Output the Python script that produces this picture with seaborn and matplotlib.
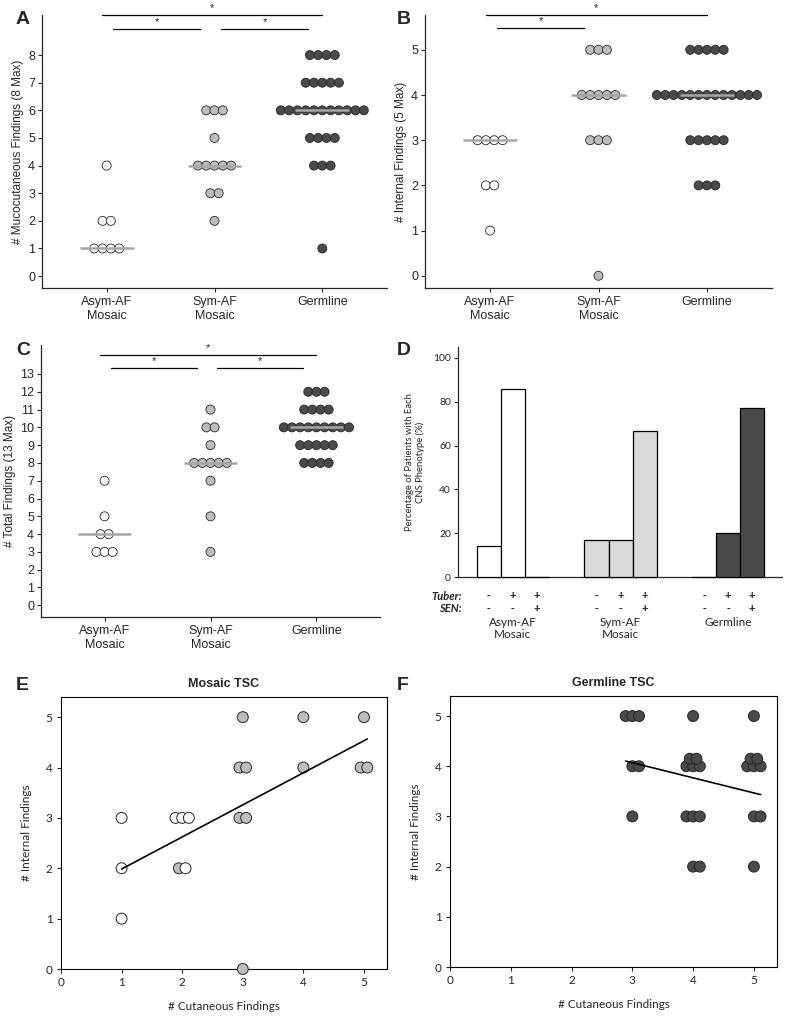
import matplotlib
matplotlib.use("Agg")
import matplotlib.pyplot as plt
import matplotlib.transforms as mtransforms
import numpy as np
import pandas as pd
import seaborn as sns

# ---- data ----
GROUPS = ["Asym-AF\nMosaic", "Sym-AF\nMosaic", "Germline"]

MUCO_ASYM = [4, 2, 2, 1, 1, 1, 1]
MUCO_SYM = [6, 6, 6, 5, 4, 4, 4, 4, 4, 3, 3, 2]
MUCO_GERM = [8] * 4 + [7] * 5 + [6] * 11 + [5] * 4 + [4] * 3 + [1]

INT_ASYM = [3, 3, 3, 3, 2, 2, 1]
INT_SYM = [5, 5, 5, 4, 4, 4, 4, 4, 3, 3, 3, 0]
INT_GERM = [5] * 5 + [4] * 13 + [3] * 5 + [2] * 3

TOT_ASYM = [7, 5, 4, 4, 3, 3, 3]
TOT_SYM = [11, 10, 10, 9, 8, 8, 8, 8, 8, 7, 5, 3]
TOT_GERM = [12] * 3 + [11] * 4 + [10] * 9 + [9] * 5 + [8] * 4

CNS_PHENO = ["T-S-", "T+S-", "T+S+"]
TUBER_SIGN = ["-", "+", "+"]
SEN_SIGN = ["-", "-", "+"]
CNS_ASYM = [14.3, 85.7, 0.0]
CNS_SYM = [16.7, 16.7, 66.7]
CNS_GERM = [0.0, 20.0, 77.0]

# mosaic scatter (E): sym-AF first, then asym-AF
E_CUT = [2, 3, 4, 5, 3, 3, 4, 5, 5, 3, 3, 3, 1, 1, 1, 2, 2, 2, 2]
E_INT = [2, 5, 5, 5, 4, 4, 4, 4, 4, 3, 3, 0, 3, 2, 1, 3, 3, 3, 2]
E_GRP = ["Sym"] * 12 + ["Asym"] * 7

# germline scatter (F)
F_CUT = [3] * 6 + [4] * 11 + [5] * 9
F_INT = [5, 5, 5, 4, 4, 3,
         5, 4, 4, 4, 4, 4, 3, 3, 3, 2, 2,
         5, 4, 4, 4, 4, 4, 3, 3, 2]

# ---- styling ----
W, H = 789, 1022
C_WHITE, C_LIGHT, C_DARK = "#ffffff", "#bdbdbd", "#4a4a4a"
GROUP_COLORS = [C_WHITE, C_LIGHT, C_DARK]
EDGE = "#262626"
ARIAL = "Liberation Sans"
CALIBRI = "Lato"

sns.set_theme(style="ticks")
plt.rcParams["font.family"] = [ARIAL, "DejaVu Sans"]
plt.rcParams["axes.linewidth"] = 0.9

fig = plt.figure(figsize=(W / 100, H / 100), dpi=100)


def px_axes(left, top, right, bottom):
    return fig.add_axes([left / W, 1 - bottom / H, (right - left) / W, (bottom - top) / H])


def row_offsets(n, step):
    return (np.arange(n) - (n - 1) / 2) * step


def dot_frame(groups_values, step=0.077):
    rows = []
    for gi, vals in enumerate(groups_values):
        vals = np.asarray(vals)
        xs = np.empty(len(vals))
        for v in np.unique(vals):
            idx = np.where(vals == v)[0]
            xs[idx] = gi + row_offsets(len(idx), step)
        for x, v in zip(xs, vals):
            rows.append({"group": GROUPS[gi], "xpos": x, "value": v})
    return pd.DataFrame(rows)


def dot_panel(ax, groups_values, ylabel, yticks, ylim, sig, sig_levels):
    df = dot_frame(groups_values)
    sns.scatterplot(data=df, x="xpos", y="value", hue="group", palette=dict(zip(GROUPS, GROUP_COLORS)),
                    s=42, edgecolor=EDGE, linewidth=0.6, legend=False, ax=ax, zorder=3, clip_on=False)
    for gi, vals in enumerate(groups_values):
        med = np.median(vals)
        ax.hlines(med, gi - 0.25, gi + 0.25, color="#a6a6a6", lw=1.8, zorder=4)
    ax.set_xlim(-0.6, 2.6)
    ax.set_ylim(*ylim)
    ax.set_xticks(range(3))
    ax.set_xticklabels(GROUPS, fontsize=9, linespacing=1.15)
    ax.set_yticks(yticks)
    ax.tick_params(axis="y", labelsize=9, length=3, width=0.8, pad=2)
    ax.tick_params(axis="x", length=3, width=0.8, pad=3)
    ax.set_xlabel("")
    ax.set_ylabel(ylabel, fontsize=8.5, labelpad=3)
    sns.despine(ax=ax)
    trans = mtransforms.blended_transform_factory(ax.transData, ax.transAxes)
    for (a, b), lvl in zip(sig, sig_levels):
        if b - a > 1:
            x0, x1 = a - 0.04, b
        else:
            x0, x1 = a + 0.06, b - 0.13
        ax.plot([x0, x1], [lvl, lvl], color="black", lw=0.9, transform=trans, clip_on=False)
        ax.text((x0 + x1) / 2, lvl + 0.008, "*", ha="center", va="bottom", fontsize=8,
                transform=trans, clip_on=False)


# ---- A ----
axA = px_axes(42, 15, 387, 288)
dot_panel(axA, [MUCO_ASYM, MUCO_SYM, MUCO_GERM], "# Mucocutaneous Findings (8 Max)",
          range(0, 9), (-0.43, 9.45), [(0, 2), (0, 1), (1, 2)], [1.0, 0.949, 0.949])

# ---- B ----
axB = px_axes(425, 15, 772, 288)
dot_panel(axB, [INT_ASYM, INT_SYM, INT_GERM], "# Internal Findings (5 Max)",
          range(0, 6), (-0.27, 5.77), [(0, 2), (0, 1)], [1.0, 0.952])

# ---- C ----
axC = px_axes(41, 345, 380, 617)
dot_panel(axC, [TOT_ASYM, TOT_SYM, TOT_GERM], "# Total Findings (13 Max)",
          range(0, 14), (-0.66, 14.63), [(0, 2), (0, 1), (1, 2)], [0.963, 0.915, 0.915])

# ---- D ----
axD = px_axes(458, 347, 782, 577)
cns = pd.DataFrame({
    "group": np.repeat(GROUPS, 3),
    "pheno": CNS_PHENO * 3,
    "pct": CNS_ASYM + CNS_SYM + CNS_GERM,
})
sns.barplot(data=cns, x="group", y="pct", hue="pheno", order=GROUPS, hue_order=CNS_PHENO,
            width=0.67, gap=0, errorbar=None, edgecolor="black", linewidth=0.9,
            legend=False, ax=axD)
for cont in axD.containers:
    for gi, bar in enumerate(cont):
        bar.set_facecolor(GROUP_COLORS[gi] if gi != 1 else "#d9d9d9")
        bar.set_zorder(3)
        bar.set_clip_on(False)
axD.set_xlim(-0.51, 2.5)
axD.set_ylim(0, 105)
axD.set_yticks(range(0, 101, 20))
axD.tick_params(axis="y", labelsize=7.5, length=3, width=0.8, pad=2)
axD.tick_params(axis="x", length=0, labelbottom=False)
for lab in axD.get_yticklabels():
    lab.set_fontfamily([CALIBRI, "DejaVu Sans"])
axD.set_xlabel("")
axD.set_ylabel("Percentage of Patients with Each\nCNS Phenotype (%)", fontsize=6.8,
               family=[CALIBRI, "DejaVu Sans"], labelpad=6, linespacing=1.15)
sns.despine(ax=axD)
transD = mtransforms.blended_transform_factory(axD.transData, axD.transAxes)
bar_w = 0.67 / 3
for gi in range(3):
    for pj in range(3):
        bx = gi + (pj - 1) * bar_w
        axD.text(bx, -0.083, TUBER_SIGN[pj], ha="center", va="center", fontsize=8, weight="bold",
                 transform=transD)
        axD.text(bx, -0.139, SEN_SIGN[pj], ha="center", va="center", fontsize=8, weight="bold",
                 transform=transD)
    axD.text(gi, -0.175, GROUPS[gi], ha="center", va="top", fontsize=8.5,
             family=[CALIBRI, "DejaVu Sans"], linespacing=1.1, transform=transD)
axD.text(0.012, -0.083, "Tuber:", ha="right", va="center", fontsize=8, weight="bold",
         style="italic", family=[CALIBRI, "DejaVu Sans"], transform=axD.transAxes)
axD.text(0.012, -0.139, "SEN:", ha="right", va="center", fontsize=8, weight="bold",
         style="italic", family=[CALIBRI, "DejaVu Sans"], transform=axD.transAxes)


# ---- E / F ----
def cluster_layout(xs, ys, step=0.11, lift=0.15, pair_right=False):
    px = np.array(xs, float)
    py = np.array(ys, float)
    keys = list(zip(xs, ys))
    for key in dict.fromkeys(keys):
        idx = np.array([i for i, k in enumerate(keys) if k == key])
        rows = [idx[:3], idx[3:]] if len(idx) > 3 else [idx]
        for r, row in enumerate(rows):
            k = len(row)
            if k == 2 and r == 0 and pair_right:
                offs = np.array([0.0, step])
            else:
                offs = row_offsets(k, step)
            px[row] = key[0] + offs
            py[row] = key[1] + r * lift
    return px, py


def scatter_panel(ax, xs, ys, colors, title, pair_right):
    px, py = cluster_layout(xs, ys, pair_right=pair_right)
    sns.scatterplot(x=px, y=py, hue=colors, palette={c: c for c in set(colors)}, s=62,
                    edgecolor=EDGE, linewidth=0.7, legend=False, ax=ax, zorder=3, clip_on=False)
    sns.regplot(x=px, y=np.asarray(ys, float), scatter=False, ci=None, truncate=True,
                color="black", line_kws={"lw": 1.2, "zorder": 4}, ax=ax)
    ax.set_xlim(0, 5.38)
    ax.set_ylim(0, 5.4)
    ax.set_xticks(range(6))
    ax.set_yticks(range(6))
    ax.tick_params(labelsize=8.5, length=3, width=0.8, pad=3)
    for lab in ax.get_xticklabels() + ax.get_yticklabels():
        lab.set_fontfamily([CALIBRI, "DejaVu Sans"])
    for sp in ax.spines.values():
        sp.set_visible(True)
        sp.set_linewidth(0.8)
        sp.set_color("black")
    ax.set_xlabel("# Cutaneous Findings", fontsize=8.5, family=[CALIBRI, "DejaVu Sans"], labelpad=9)
    ax.set_ylabel("# Internal Findings", fontsize=8.5, family=[CALIBRI, "DejaVu Sans"], labelpad=10)
    ax.set_title(title, fontsize=9, weight="bold", family=[ARIAL, "DejaVu Sans"], pad=7)


axE = px_axes(61, 697, 387, 969)
e_colors = [C_LIGHT if g == "Sym" else C_WHITE for g in E_GRP]
scatter_panel(axE, E_CUT, E_INT, e_colors, "Mosaic TSC", pair_right=False)

axF = px_axes(450, 696, 777, 967)
scatter_panel(axF, F_CUT, F_INT, [C_DARK] * len(F_CUT), "Germline TSC", pair_right=True)

# panel letters
for letter, (x, y) in zip("ABCDEF", [(16, 20), (397, 20), (16, 350), (397, 350), (16, 685), (397, 685)]):
    fig.text(x / W, 1 - y / H, letter, fontsize=14, weight="bold", ha="left", va="center")

fig.savefig("out.png", dpi=100)
